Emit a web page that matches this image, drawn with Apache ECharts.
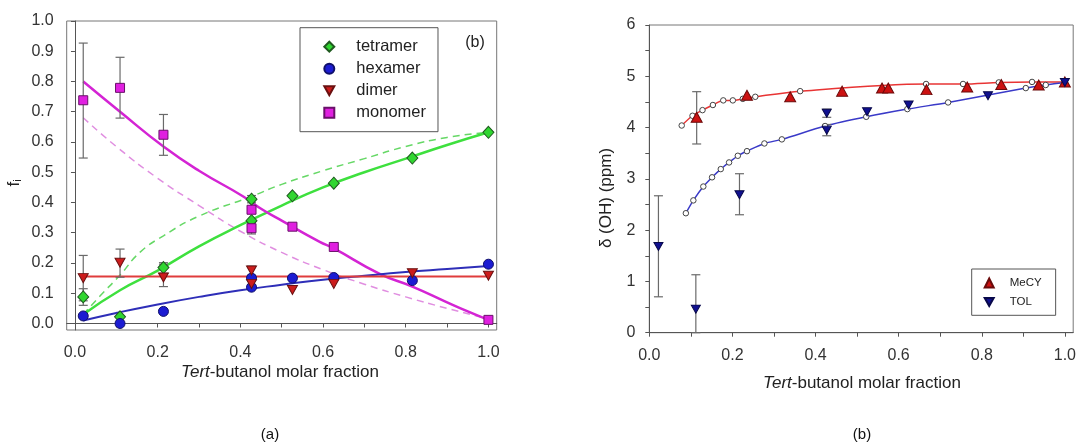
<!DOCTYPE html>
<html><head><meta charset="utf-8">
<script src="https://cdn.jsdelivr.net/npm/echarts@6/dist/echarts.min.js"></script>
<style>html,body{margin:0;padding:0;background:#fff}#c{width:1079px;height:446px}</style>
</head><body><div id="c"></div>
<script>
// ---------- Panel (a): fractions f_i ----------
const tetramerX = [0.02, 0.109, 0.214, 0.427, 0.427, 0.526, 0.626, 0.816, 1.0];
const tetramerY = [0.088, 0.022, 0.185, 0.411, 0.340, 0.422, 0.464, 0.547, 0.632];
const hexamerX = [0.02, 0.109, 0.214, 0.427, 0.427, 0.526, 0.626, 0.816, 1.0];
const hexamerY = [0.025, 0.0, 0.040, 0.150, 0.120, 0.150, 0.152, 0.142, 0.196];
const dimerX = [0.02, 0.109, 0.214, 0.427, 0.427, 0.526, 0.626, 0.816, 1.0];
const dimerY = [0.150, 0.201, 0.152, 0.175, 0.131, 0.111, 0.131, 0.166, 0.158];
const monomerX = [0.02, 0.109, 0.214, 0.427, 0.427, 0.526, 0.626, 1.0];
const monomerY = [0.738, 0.779, 0.624, 0.376, 0.315, 0.320, 0.253, 0.012];
// error bars [x, low, high]
const errA = [
  [0.02, 0.547, 0.927], [0.109, 0.679, 0.880], [0.214, 0.556, 0.691],
  [0.02, 0.075, 0.225], [0.109, 0.153, 0.246], [0.214, 0.122, 0.196],
  [0.02, 0.060, 0.115], [0.214, 0.166, 0.201],
  [0.427, 0.399, 0.423], [0.427, 0.296, 0.335], [0.427, 0.160, 0.190]
];
// fitted curves
const tetraFitX = [0.02, 0.109, 0.2, 0.3, 0.4, 0.5, 0.6, 0.7, 0.8, 0.9, 1.0];
const tetraFitY = [0.03, 0.11, 0.175, 0.255, 0.325, 0.39, 0.45, 0.50, 0.545, 0.59, 0.632];
const tetraDashX = [0.02, 0.06, 0.109, 0.157, 0.214, 0.3, 0.427, 0.5, 0.6, 0.7, 0.8, 0.9, 1.0];
const tetraDashY = [0.03, 0.09, 0.16, 0.235, 0.29, 0.355, 0.42, 0.46, 0.505, 0.545, 0.585, 0.615, 0.632];
const monoFitX = [0.02, 0.109, 0.214, 0.3, 0.407, 0.455, 0.5, 0.592, 0.624, 0.737, 0.816, 0.9, 0.95, 1.0];
const monoFitY = [0.80, 0.70, 0.585, 0.505, 0.42, 0.375, 0.34, 0.27, 0.25, 0.164, 0.122, 0.07, 0.04, 0.012];
const monoDashX = [0.02, 0.1, 0.2, 0.3, 0.4, 0.5, 0.6, 0.7, 0.8, 0.9, 1.0];
const monoDashY = [0.68, 0.585, 0.48, 0.39, 0.305, 0.235, 0.178, 0.13, 0.088, 0.05, 0.015];
const hexaFitX = [0.02, 0.1, 0.2, 0.3, 0.4, 0.5, 0.6, 0.7, 0.8, 0.9, 1.0];
const hexaFitY = [0.01, 0.035, 0.063, 0.088, 0.11, 0.128, 0.145, 0.158, 0.17, 0.18, 0.19];
const dimerFitX = [0.02, 1.0];
const dimerFitY = [0.155, 0.155];
const aXTicks = [0.0, 0.2, 0.4, 0.6, 0.8, 1.0];
const aXMinor = [0.0, 0.1, 0.2, 0.3, 0.4, 0.5, 0.6, 0.7, 0.8, 0.9, 1.0];
const aYTicks = [0.0, 0.1, 0.2, 0.3, 0.4, 0.5, 0.6, 0.7, 0.8, 0.9, 1.0];

// ---------- Panel (b): delta(OH) ----------
const mecyX = [0.114, 0.235, 0.339, 0.464, 0.560, 0.575, 0.667, 0.765, 0.847, 0.937, 1.0];
const mecyY = [4.20, 4.63, 4.60, 4.71, 4.77, 4.77, 4.74, 4.79, 4.84, 4.83, 4.89];
const tolX = [0.022, 0.112, 0.217, 0.427, 0.427, 0.524, 0.624, 0.815, 1.0];
const tolY = [1.68, 0.46, 2.69, 4.28, 3.95, 4.31, 4.44, 4.62, 4.88];
const errB = [
  [0.114, 3.68, 4.70],
  [0.022, 0.70, 2.67], [0.112, 0.0, 1.13], [0.217, 2.30, 3.10],
  [0.427, 4.20, 4.36], [0.427, 3.84, 4.06]
];
const redFitX = [0.078, 0.104, 0.128, 0.153, 0.178, 0.201, 0.225, 0.255, 0.363, 0.666, 0.755, 0.841, 0.921, 1.0];
const redFitY = [4.04, 4.23, 4.34, 4.44, 4.53, 4.53, 4.56, 4.60, 4.71, 4.85, 4.85, 4.88, 4.89, 4.89];
const blueFitX = [0.088, 0.106, 0.130, 0.151, 0.172, 0.192, 0.213, 0.235, 0.277, 0.319, 0.423, 0.522, 0.621, 0.719, 0.906, 0.954, 1.0];
const blueFitY = [2.33, 2.58, 2.85, 3.03, 3.19, 3.32, 3.45, 3.54, 3.69, 3.77, 4.03, 4.21, 4.36, 4.49, 4.77, 4.83, 4.88];
const bXTicks = [0.0, 0.2, 0.4, 0.6, 0.8, 1.0];
const bXMinor = [0.0, 0.1, 0.2, 0.3, 0.4, 0.5, 0.6, 0.7, 0.8, 0.9, 1.0];
const bYTicks = [0, 1, 2, 3, 4, 5, 6];
const bYMinor = [0, 0.5, 1, 1.5, 2, 2.5, 3, 3.5, 4, 4.5, 5, 5.5, 6];

const FONT = 'Liberation Sans, Arial, sans-serif';
const zip = (xs, ys) => xs.map((x, i) => [x, ys[i]]);
const DOWN = 'path://M0,0L10,0L5,9Z';

function errSeries(data, xi, yi) {
  return {
    type: 'custom', xAxisIndex: xi, yAxisIndex: yi, z: 3, silent: true,
    data: data,
    renderItem: function (params, api) {
      const x = api.value(0), lo = api.value(1), hi = api.value(2);
      const p1 = api.coord([x, lo]), p2 = api.coord([x, hi]);
      const w = 4.5;
      const st = { stroke: '#6a6a6a', lineWidth: 1.2 };
      return { type: 'group', children: [
        { type: 'line', shape: { x1: p1[0], y1: p1[1], x2: p2[0], y2: p2[1] }, style: st },
        { type: 'line', shape: { x1: p1[0] - w, y1: p1[1], x2: p1[0] + w, y2: p1[1] }, style: st },
        { type: 'line', shape: { x1: p2[0] - w, y1: p2[1], x2: p2[0] + w, y2: p2[1] }, style: st }
      ]};
    }
  };
}
function fitLine(xs, ys, color, dashed, xi, yi, width, smooth) {
  return {
    type: 'line', xAxisIndex: xi, yAxisIndex: yi, z: 2, silent: true,
    data: zip(xs, ys), showSymbol: false, smooth: smooth,
    lineStyle: { color: color, width: width, type: dashed ? [7, 5] : 'solid' }
  };
}
function axisCommon() {
  return {
    axisLine: { show: true, lineStyle: { color: '#555', width: 1 } },
    axisTick: { show: true, length: 4, inside: false, lineStyle: { color: '#555' } },
    splitLine: { show: false },
    axisLabel: { color: '#333', fontSize: 16, fontFamily: FONT }
  };
}

const chart = echarts.init(document.getElementById('c'), null, { renderer: 'canvas' });
const ax = axisCommon();
chart.setOption({
  animation: false,
  backgroundColor: '#fff',
  grid: [
    { left: 66.7, top: 21, width: 430, height: 309, show: true, borderColor: '#777', borderWidth: 1, backgroundColor: 'transparent' },
    { left: 649.3, top: 25, width: 426.4, height: 307.7, show: true, borderColor: '#777', borderWidth: 1, backgroundColor: 'transparent' }
  ],
  xAxis: [
    Object.assign({}, axisCommon(), { type: 'value', gridIndex: 0, min: -0.02, max: 1.02,
      axisTick: Object.assign({}, ax.axisTick, { customValues: aXMinor }),
      axisLabel: Object.assign({}, ax.axisLabel, { customValues: aXTicks, margin: 15, formatter: v => v.toFixed(1) }) }),
    Object.assign({}, axisCommon(), { type: 'value', gridIndex: 1, min: 0, max: 1.02,
      axisTick: Object.assign({}, ax.axisTick, { customValues: bXMinor }),
      axisLabel: Object.assign({}, ax.axisLabel, { customValues: bXTicks, margin: 15, formatter: v => v.toFixed(1) }) })
  ],
  yAxis: [
    Object.assign({}, axisCommon(), { type: 'value', gridIndex: 0, min: -0.0215, max: 1.0,
      axisTick: Object.assign({}, ax.axisTick, { customValues: aYTicks }),
      axisLabel: Object.assign({}, ax.axisLabel, { customValues: aYTicks, margin: 13, formatter: v => v.toFixed(1) }) }),
    Object.assign({}, axisCommon(), { type: 'value', gridIndex: 1, min: 0, max: 6,
      axisTick: Object.assign({}, ax.axisTick, { customValues: bYMinor }),
      axisLabel: Object.assign({}, ax.axisLabel, { customValues: bYTicks, margin: 14, formatter: v => String(v) }) })
  ],
  legend: [
    { show: true, orient: 'vertical', left: 300, top: 27.7, itemWidth: 10, itemHeight: 10, itemGap: 5,
      padding: [10.5, 12, 10.5, 23.3], borderColor: '#555', borderWidth: 1, backgroundColor: '#fff',
      textStyle: { fontSize: 16.5, fontFamily: FONT, color: '#222', padding: [0, 0, 0, 17] },
      data: ['tetramer', 'hexamer', 'dimer', 'monomer'] },
    { show: true, orient: 'vertical', left: 971.7, top: 269, itemWidth: 9, itemHeight: 9, itemGap: 7,
      padding: [8, 14, 7.3, 12], borderColor: '#555', borderWidth: 1, backgroundColor: '#fff',
      textStyle: { fontSize: 11.5, fontFamily: FONT, color: '#222', padding: [0, 0, 0, 11] },
      data: ['MeCY', 'TOL'] }
  ],
  series: [
    fitLine(tetraDashX, tetraDashY, '#66d866', true, 0, 0, 1.5, true),
    fitLine(monoDashX, monoDashY, '#e08ee0', true, 0, 0, 1.5, true),
    fitLine(tetraFitX, tetraFitY, '#3ee03e', false, 0, 0, 2.5, true),
    fitLine(monoFitX, monoFitY, '#d424d4', false, 0, 0, 2.5, true),
    fitLine(hexaFitX, hexaFitY, '#2e2eb8', false, 0, 0, 2, true),
    fitLine(dimerFitX, dimerFitY, '#e03c3c', false, 0, 0, 2, false),
    errSeries(errA, 0, 0),
    { name: 'tetramer', type: 'scatter', xAxisIndex: 0, yAxisIndex: 0, z: 5, symbol: 'diamond', symbolSize: [11, 12],
      data: zip(tetramerX, tetramerY), itemStyle: { color: '#30d630', borderColor: '#1f5a1f', borderWidth: 1, opacity: 1 } },
    { name: 'hexamer', type: 'scatter', xAxisIndex: 0, yAxisIndex: 0, z: 5, symbol: 'circle', symbolSize: 10,
      data: zip(hexamerX, hexamerY), itemStyle: { color: '#1c1cd2', borderColor: '#10106a', borderWidth: 1, opacity: 1 } },
    { name: 'dimer', type: 'scatter', xAxisIndex: 0, yAxisIndex: 0, z: 5, symbol: DOWN, symbolSize: [10, 9],
      data: zip(dimerX, dimerY), itemStyle: { color: '#cc1c1c', borderColor: '#6a1010', borderWidth: 1, opacity: 1 } },
    { name: 'monomer', type: 'scatter', xAxisIndex: 0, yAxisIndex: 0, z: 5, symbol: 'rect', symbolSize: 9,
      data: zip(monomerX, monomerY), itemStyle: { color: '#e020e0', borderColor: '#6a106a', borderWidth: 1, opacity: 1 } },

    fitLine(redFitX, redFitY, '#e83434', false, 1, 1, 1.5, 0.3),
    fitLine(blueFitX, blueFitY, '#3a3ac8', false, 1, 1, 1.5, 0.3),
    { type: 'scatter', xAxisIndex: 1, yAxisIndex: 1, z: 4, symbol: 'circle', symbolSize: 5.5, silent: true,
      data: zip(redFitX, redFitY), itemStyle: { color: '#fff', borderColor: '#444', borderWidth: 1, opacity: 1 } },
    { type: 'scatter', xAxisIndex: 1, yAxisIndex: 1, z: 4, symbol: 'circle', symbolSize: 5.5, silent: true,
      data: zip(blueFitX, blueFitY), itemStyle: { color: '#fff', borderColor: '#444', borderWidth: 1, opacity: 1 } },
    errSeries(errB, 1, 1),
    { name: 'MeCY', type: 'scatter', xAxisIndex: 1, yAxisIndex: 1, z: 5, symbol: 'triangle', symbolSize: [11, 10],
      data: zip(mecyX, mecyY), itemStyle: { color: '#cc1111', borderColor: '#6a0a0a', borderWidth: 1, opacity: 1 } },
    { name: 'TOL', type: 'scatter', xAxisIndex: 1, yAxisIndex: 1, z: 5, symbol: DOWN, symbolSize: [9, 8],
      data: zip(tolX, tolY), itemStyle: { color: '#101090', borderColor: '#08084a', borderWidth: 1, opacity: 1 } }
  ],
  graphic: [
    { type: 'text', x: 280, y: 372, z: 10, style: { text: '{i|Tert}-butanol molar fraction', fill: '#222', font: '17px ' + FONT,
        align: 'center', verticalAlign: 'middle', rich: { i: { fontStyle: 'italic', fontSize: 17, fontFamily: FONT, fill: '#222' } } } },
    { type: 'text', x: 862, y: 383, z: 10, style: { text: '{i|Tert}-butanol molar fraction', fill: '#222', font: '17px ' + FONT,
        align: 'center', verticalAlign: 'middle', rich: { i: { fontStyle: 'italic', fontSize: 17, fontFamily: FONT, fill: '#222' } } } },
    { type: 'text', x: 14, y: 183, rotation: Math.PI / 2, z: 10, style: { text: 'f{s|i}', fill: '#222', font: '17px ' + FONT,
        align: 'center', verticalAlign: 'middle', rich: { s: { fontSize: 11, fontFamily: FONT, fill: '#222', padding: [8, 0, 0, 0] } } } },
    { type: 'text', x: 606, y: 198, rotation: Math.PI / 2, z: 10, style: { text: 'δ (OH) (ppm)', fill: '#222', font: '17px ' + FONT,
        align: 'center', verticalAlign: 'middle' } },
    { type: 'text', x: 475, y: 43, z: 10, style: { text: '(b)', fill: '#222', font: '16px ' + FONT, align: 'center', verticalAlign: 'middle' } },
    { type: 'text', x: 270, y: 435, z: 10, style: { text: '(a)', fill: '#111', font: '15px ' + FONT, align: 'center', verticalAlign: 'middle' } },
    { type: 'text', x: 862, y: 435, z: 10, style: { text: '(b)', fill: '#111', font: '15px ' + FONT, align: 'center', verticalAlign: 'middle' } }
  ]
});
</script></body></html>
